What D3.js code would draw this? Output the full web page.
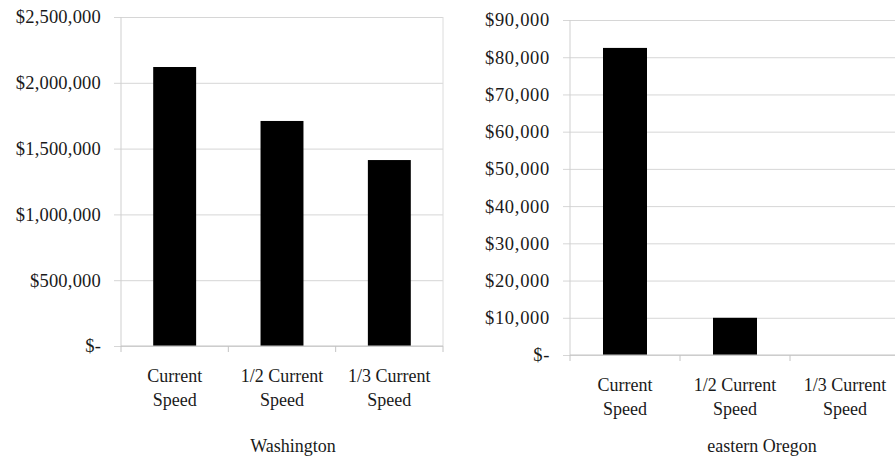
<!DOCTYPE html>
<html>
<head>
<meta charset="utf-8">
<script src="https://cdn.jsdelivr.net/npm/d3@7"></script>
<style>
  html, body { margin: 0; padding: 0; background: #fff; }
  svg { display: block; }
</style>
</head>
<body>
<svg id="chart" width="895" height="461"></svg>
<script>
// Cost by travel speed, two regions
const categories = [["Current", "Speed"], ["1/2 Current", "Speed"], ["1/3 Current", "Speed"]];
const waValues = [2120000, 1710000, 1413000];
const orValues = [82500, 10000, 0];
const waTicks = [0, 500000, 1000000, 1500000, 2000000, 2500000];
const orTicks = [0, 10000, 20000, 30000, 40000, 50000, 60000, 70000, 80000, 90000];
const waTitle = "Washington";
const orTitle = "eastern Oregon";

const FONT = "Liberation Serif";
const INK = "#1a1a1a";
const svg = d3.select("#chart");
const money = d3.format(",");
const fmt = v => v === 0 ? "$-" : "$" + money(v);

function panel(opts) {
  const { values, ticks, title, x0, x1, yTop, yBottom, titleX, tickSpacing } = opts;
  const keys = categories.map((c, i) => i);
  const x = d3.scaleBand().domain(keys).range([x0, x1]).paddingInner(0).paddingOuter(0);
  const y = d3.scaleLinear().domain([0, d3.max(ticks)]).range([yBottom, yTop]);
  const g = svg.append("g");

  // horizontal gridlines with short outside ticks
  const yAxis = d3.axisLeft(y).tickValues(ticks).tickFormat(fmt)
    .tickSize(-(x1 - x0)).tickPadding(20);
  const ya = g.append("g").attr("transform", `translate(${x0},0)`).call(yAxis);
  ya.attr("font-family", FONT).attr("font-size", 18.5);
  ya.select(".domain").remove();
  ya.selectAll(".tick line").attr("x1", -7).attr("stroke", "#d6d6d6");
  ya.selectAll(".tick text").attr("font-family", FONT).attr("fill", INK)
    .attr("letter-spacing", tickSpacing);

  // plot frame sides
  g.append("line").attr("x1", x0).attr("x2", x0).attr("y1", yTop).attr("y2", yBottom)
    .attr("stroke", "#cfcfcf");
  g.append("line").attr("x1", x1).attr("x2", x1).attr("y1", yTop).attr("y2", yBottom)
    .attr("stroke", "#dcdcdc");

  // bars
  g.selectAll("rect.bar").data(values).enter().append("rect")
    .attr("class", "bar")
    .attr("x", (d, i) => x(i) + x.bandwidth() * 0.3)
    .attr("width", x.bandwidth() * 0.4)
    .attr("y", d => y(d))
    .attr("height", d => y(0) - y(d))
    .attr("fill", "#000");

  // category axis
  g.append("line").attr("x1", x0).attr("x2", x1).attr("y1", y(0)).attr("y2", y(0))
    .attr("stroke", "#c4c4c4");
  const bounds = keys.map(k => x(k)).concat([x1]);
  g.selectAll("line.ctick").data(bounds).enter().append("line")
    .attr("class", "ctick")
    .attr("x1", d => d).attr("x2", d => d)
    .attr("y1", y(0)).attr("y2", y(0) + 6)
    .attr("stroke", "#c4c4c4");

  const lab = g.selectAll("text.cat").data(categories).enter().append("text")
    .attr("class", "cat")
    .attr("text-anchor", "middle")
    .attr("font-size", 18)
    .attr("font-family", FONT)
    .attr("fill", INK);
  lab.each(function (lines, i) {
    const t = d3.select(this);
    lines.forEach((s, j) => {
      t.append("tspan")
        .attr("x", x(i) + x.bandwidth() / 2)
        .attr("y", y(0) + 36 + j * 24)
        .text(s);
    });
  });

  g.append("text")
    .attr("x", titleX)
    .attr("y", 452)
    .attr("text-anchor", "middle")
    .attr("font-size", 18)
    .attr("font-family", FONT)
    .attr("fill", INK)
    .text(title);
}

panel({ values: waValues, ticks: waTicks, title: waTitle, tickSpacing: 0.2,
        x0: 121, x1: 443, yTop: 17, yBottom: 346, titleX: 293 });
panel({ values: orValues, ticks: orTicks, title: orTitle, tickSpacing: 0.7,
        x0: 570, x1: 900, yTop: 20, yBottom: 355, titleX: 762 });
</script>
</body>
</html>
